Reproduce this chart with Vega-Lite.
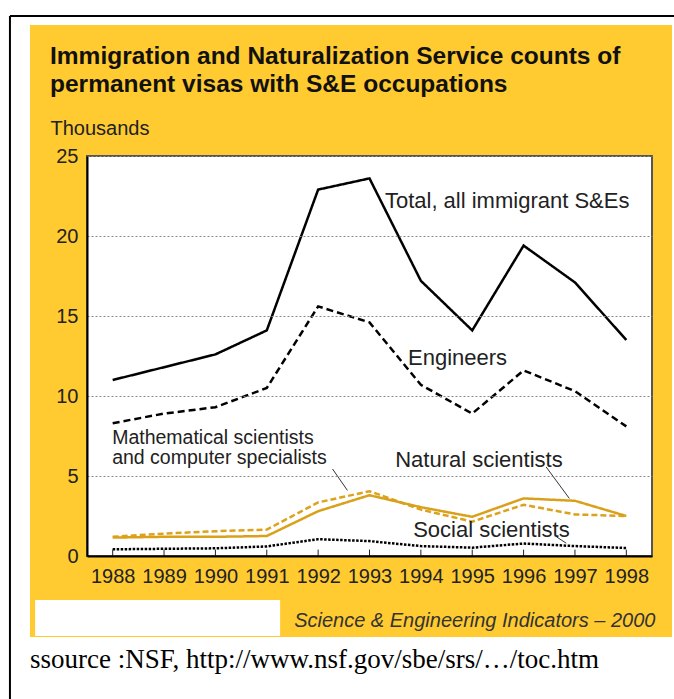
{
  "$schema": "https://vega.github.io/schema/vega-lite/v6.json",
  "width": 565,
  "height": 400,
  "autosize": {"type": "none"},
  "padding": {"left": 87, "top": 156, "right": 22, "bottom": 143},
  "background": "white",
  "config": {
    "view": {"stroke": null},
    "font": "Liberation Sans"
  },
  "layer": [
    {
      "data": {"values": [{}]},
      "mark": {"type": "rect", "color": "#FFCB30"},
      "encoding": {
        "x": {"datum": 1986.39, "type": "quantitative"},
        "x2": {"datum": 1998.89},
        "y": {"datum": 33.19, "type": "quantitative"},
        "y2": {"datum": -5.06}
      }
    },
    {
      "data": {"values": [{}]},
      "mark": {"type": "rule", "color": "black", "strokeWidth": 2},
      "encoding": {
        "x": {"datum": 1986.0, "type": "quantitative"},
        "x2": {"datum": 1999.5},
        "y": {"datum": 33.75, "type": "quantitative"}
      }
    },
    {
      "data": {"values": [{}]},
      "mark": {"type": "rule", "color": "black", "strokeWidth": 2},
      "encoding": {
        "x": {"datum": 1986.0, "type": "quantitative"},
        "y": {"datum": 33.75, "type": "quantitative"},
        "y2": {"datum": -9.5}
      }
    },
    {
      "data": {"values": [{}]},
      "mark": {"type": "rect", "fill": "white", "stroke": "#555555", "strokeWidth": 2},
      "encoding": {
        "x": {"datum": 1987.5, "type": "quantitative"},
        "x2": {"datum": 1998.5},
        "y": {"datum": 25, "type": "quantitative"},
        "y2": {"datum": 0}
      }
    },
    {
      "data": {"values": [{}]},
      "mark": {"type": "rect", "fill": "white"},
      "encoding": {
        "x": {"datum": 1986.49, "type": "quantitative"},
        "x2": {"datum": 1991.26},
        "y": {"datum": -2.75, "type": "quantitative"},
        "y2": {"datum": -5.0}
      }
    },
    {
      "data": {
        "values": [
          {"year": 1988, "series": "Total", "value": 11.0},
          {"year": 1989, "series": "Total", "value": 11.8},
          {"year": 1990, "series": "Total", "value": 12.6},
          {"year": 1991, "series": "Total", "value": 14.1},
          {"year": 1992, "series": "Total", "value": 22.9},
          {"year": 1993, "series": "Total", "value": 23.6},
          {"year": 1994, "series": "Total", "value": 17.2},
          {"year": 1995, "series": "Total", "value": 14.1},
          {"year": 1996, "series": "Total", "value": 19.4},
          {"year": 1997, "series": "Total", "value": 17.1},
          {"year": 1998, "series": "Total", "value": 13.5},
          {"year": 1988, "series": "Engineers", "value": 8.3},
          {"year": 1989, "series": "Engineers", "value": 8.9},
          {"year": 1990, "series": "Engineers", "value": 9.3},
          {"year": 1991, "series": "Engineers", "value": 10.5},
          {"year": 1992, "series": "Engineers", "value": 15.6},
          {"year": 1993, "series": "Engineers", "value": 14.6},
          {"year": 1994, "series": "Engineers", "value": 10.7},
          {"year": 1995, "series": "Engineers", "value": 8.9},
          {"year": 1996, "series": "Engineers", "value": 11.6},
          {"year": 1997, "series": "Engineers", "value": 10.3},
          {"year": 1998, "series": "Engineers", "value": 8.1},
          {"year": 1988, "series": "Mathematical", "value": 1.2},
          {"year": 1989, "series": "Mathematical", "value": 1.4},
          {"year": 1990, "series": "Mathematical", "value": 1.55},
          {"year": 1991, "series": "Mathematical", "value": 1.65},
          {"year": 1992, "series": "Mathematical", "value": 3.35},
          {"year": 1993, "series": "Mathematical", "value": 4.05},
          {"year": 1994, "series": "Mathematical", "value": 2.9},
          {"year": 1995, "series": "Mathematical", "value": 2.15},
          {"year": 1996, "series": "Mathematical", "value": 3.2},
          {"year": 1997, "series": "Mathematical", "value": 2.6},
          {"year": 1998, "series": "Mathematical", "value": 2.5},
          {"year": 1988, "series": "Natural", "value": 1.15},
          {"year": 1989, "series": "Natural", "value": 1.2},
          {"year": 1990, "series": "Natural", "value": 1.2},
          {"year": 1991, "series": "Natural", "value": 1.25},
          {"year": 1992, "series": "Natural", "value": 2.8},
          {"year": 1993, "series": "Natural", "value": 3.8},
          {"year": 1994, "series": "Natural", "value": 3.05},
          {"year": 1995, "series": "Natural", "value": 2.45},
          {"year": 1996, "series": "Natural", "value": 3.6},
          {"year": 1997, "series": "Natural", "value": 3.45},
          {"year": 1998, "series": "Natural", "value": 2.5},
          {"year": 1988, "series": "Social", "value": 0.42},
          {"year": 1989, "series": "Social", "value": 0.45},
          {"year": 1990, "series": "Social", "value": 0.48},
          {"year": 1991, "series": "Social", "value": 0.6},
          {"year": 1992, "series": "Social", "value": 1.05},
          {"year": 1993, "series": "Social", "value": 0.93},
          {"year": 1994, "series": "Social", "value": 0.62},
          {"year": 1995, "series": "Social", "value": 0.52},
          {"year": 1996, "series": "Social", "value": 0.78},
          {"year": 1997, "series": "Social", "value": 0.62},
          {"year": 1998, "series": "Social", "value": 0.5}
        ]
      },
      "mark": {"type": "line", "strokeWidth": 2.5},
      "encoding": {
        "x": {
          "field": "year",
          "type": "quantitative",
          "scale": {"domain": [1987.5, 1998.5], "nice": false, "zero": false},
          "axis": {
            "zindex": 1,
            "title": "Science & Engineering Indicators – 2000",
            "titleX": 568,
            "titleY": 64,
            "titleAlign": "right",
            "titleBaseline": "middle",
            "titleFontStyle": "italic",
            "titleFontWeight": "normal",
            "titleFontSize": 20,
            "titleColor": "#333333",
            "values": [1988, 1989, 1990, 1991, 1992, 1993, 1994, 1995, 1996, 1997, 1998],
            "format": "d",
            "labelFontSize": 20,
            "labelColor": "#222222",
            "labelPadding": 10,
            "labelFlush": false,
            "labelOverlap": false,
            "ticks": false,
            "tickSize": 0,
            "grid": false,
            "domainColor": "black",
            "domainWidth": 2
          }
        },
        "y": {
          "field": "value",
          "type": "quantitative",
          "scale": {"domain": [0, 25], "nice": false},
          "axis": {
            "zindex": 1,
            "title": "Thousands",
            "titleAngle": 0,
            "titleX": -37,
            "titleY": -28,
            "titleAlign": "left",
            "titleBaseline": "middle",
            "titleFontSize": 20,
            "titleFontWeight": "normal",
            "titleColor": "#222222",
            "values": [0, 5, 10, 15, 20, 25],
            "labelFontSize": 20,
            "labelColor": "#222222",
            "labelPadding": 9,
            "labelFlush": false,
            "ticks": false,
            "tickSize": 0,
            "grid": true,
            "gridColor": "#888888",
            "gridDash": [2, 2],
            "gridWidth": 1,
            "domainColor": "black",
            "domainWidth": 2
          }
        },
        "detail": {"field": "series"},
        "color": {
          "field": "series",
          "type": "nominal",
          "scale": {
            "domain": ["Total", "Engineers", "Mathematical", "Natural", "Social"],
            "range": ["#000000", "#000000", "#DDA21C", "#D9A01A", "#000000"]
          },
          "legend": null
        },
        "strokeDash": {
          "field": "series",
          "type": "nominal",
          "scale": {
            "domain": ["Total", "Engineers", "Mathematical", "Natural", "Social"],
            "range": [[1, 0], [7, 4], [6, 3], [1, 0], [2.5, 1.5]]
          },
          "legend": null
        }
      }
    },
    {
      "data": {"values": [{"year": 1988}, {"year": 1989}, {"year": 1990}, {"year": 1991}, {"year": 1992}, {"year": 1993}, {"year": 1994}, {"year": 1995}, {"year": 1996}, {"year": 1997}, {"year": 1998}]},
      "mark": {"type": "rule", "color": "#222222", "strokeWidth": 1},
      "encoding": {
        "x": {"field": "year", "type": "quantitative"},
        "y": {"datum": 0, "type": "quantitative"},
        "y2": {"datum": 0.4}
      }
    },
    {
      "data": {"values": [{}]},
      "mark": {"type": "rule", "color": "#333333", "strokeWidth": 1},
      "encoding": {
        "x": {"datum": 1992.28, "type": "quantitative"},
        "x2": {"datum": 1992.57},
        "y": {"datum": 5.44, "type": "quantitative"},
        "y2": {"datum": 4.1}
      }
    },
    {
      "data": {"values": [{}]},
      "mark": {"type": "rule", "color": "#333333", "strokeWidth": 1},
      "encoding": {
        "x": {"datum": 1996.44, "type": "quantitative"},
        "x2": {"datum": 1996.89},
        "y": {"datum": 5.56, "type": "quantitative"},
        "y2": {"datum": 3.6}
      }
    },
    {
      "data": {"values": [{}]},
      "mark": {"type": "rule", "color": "#333333", "strokeWidth": 1},
      "encoding": {
        "x": {"datum": 1996.64, "type": "quantitative"},
        "x2": {"datum": 1996.83},
        "y": {"datum": 1.2, "type": "quantitative"},
        "y2": {"datum": 0.8}
      }
    },
    {
      "data": {"values": [{}]},
      "mark": {"type": "text", "text": ["Immigration and Naturalization Service counts of", "permanent visas with S&E occupations"], "lineHeight": 28, "align": "left", "baseline": "middle", "fontSize": 24.5, "fontWeight": "bold", "color": "#111111"},
      "encoding": {"x": {"datum": 1986.78, "type": "quantitative"}, "y": {"datum": 31.16, "type": "quantitative"}}
    },
    {
      "data": {"values": [{}]},
      "mark": {"type": "text", "text": "Total, all immigrant S&Es", "align": "left", "baseline": "middle", "fontSize": 22, "color": "#222222"},
      "encoding": {"x": {"datum": 1993.3, "type": "quantitative"}, "y": {"datum": 22.2, "type": "quantitative"}}
    },
    {
      "data": {"values": [{}]},
      "mark": {"type": "text", "text": "Engineers", "align": "left", "baseline": "middle", "fontSize": 22, "color": "#222222"},
      "encoding": {"x": {"datum": 1993.75, "type": "quantitative"}, "y": {"datum": 12.4, "type": "quantitative"}}
    },
    {
      "data": {"values": [{}]},
      "mark": {"type": "text", "text": ["Mathematical scientists", "and computer specialists"], "lineHeight": 20.5, "align": "left", "baseline": "middle", "fontSize": 19.5, "color": "#222222"},
      "encoding": {"x": {"datum": 1987.99, "type": "quantitative"}, "y": {"datum": 7.4, "type": "quantitative"}}
    },
    {
      "data": {"values": [{}]},
      "mark": {"type": "text", "text": "Natural scientists", "align": "left", "baseline": "middle", "fontSize": 22, "color": "#222222"},
      "encoding": {"x": {"datum": 1993.5, "type": "quantitative"}, "y": {"datum": 6.0, "type": "quantitative"}}
    },
    {
      "data": {"values": [{}]},
      "mark": {"type": "text", "text": "Social scientists", "align": "left", "baseline": "middle", "fontSize": 22, "color": "#222222"},
      "encoding": {"x": {"datum": 1993.85, "type": "quantitative"}, "y": {"datum": 1.62, "type": "quantitative"}}
    },
    {
      "data": {"values": [{}]},
      "mark": {"type": "text", "text": "ssource :NSF,  http://www.nsf.gov/sbe/srs/…/toc.htm", "align": "left", "baseline": "middle", "fontSize": 27, "font": "Liberation Serif", "color": "#000000"},
      "encoding": {"x": {"datum": 1986.39, "type": "quantitative"}, "y": {"datum": -6.5, "type": "quantitative"}}
    }
  ]
}
